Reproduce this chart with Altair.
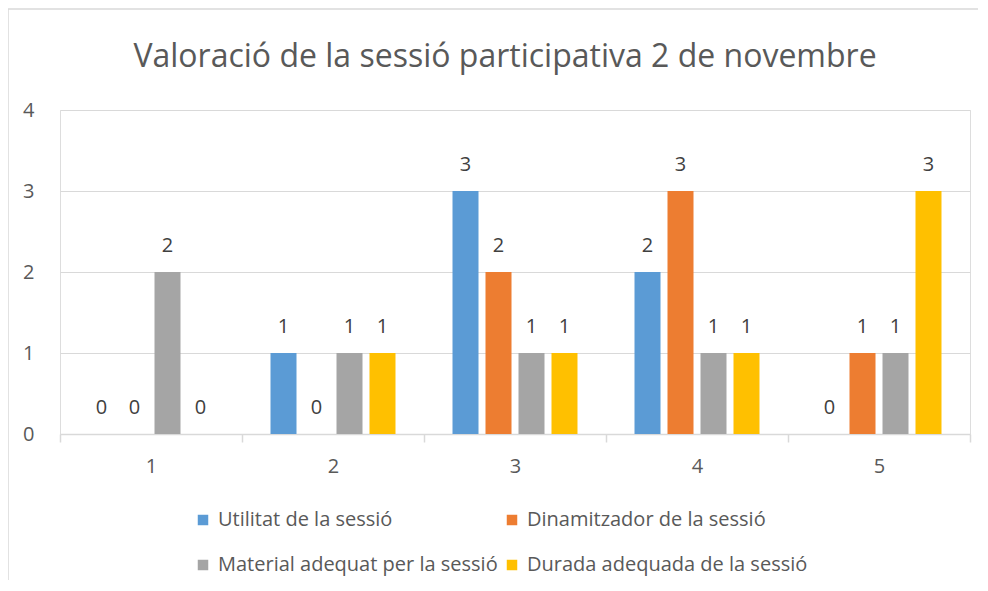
import altair as alt
import pandas as pd

categories = ["1", "2", "3", "4", "5"]
series = ["Utilitat de la sessió", "Dinamitzador de la sessió",
          "Material adequat per la sessió", "Durada adequada de la sessió"]
utilitat = [0, 1, 3, 2, 0]
dinamitzador = [0, 0, 2, 3, 1]
material = [2, 1, 1, 1, 1]
durada = [0, 1, 1, 1, 3]
y_ticks = [0, 1, 2, 3, 4]
colors = ["#5B9BD5", "#ED7D31", "#A5A5A5", "#FFC000"]
title = "Valoració de la sessió participativa 2 de novembre"

rows = []
for s, vals in zip(series, [utilitat, dinamitzador, material, durada]):
    for c, v in zip(categories, vals):
        rows.append({"cat": c, "serie": s, "valor": v})
df = pd.DataFrame(rows)

FONT = "Open Sans"
GREY = "#595959"

x_enc = alt.X("cat:N", sort=categories, title=None,
              scale=alt.Scale(paddingInner=0, paddingOuter=0),
              axis=alt.Axis(labelAngle=0, labelFontSize=20, labelColor=GREY,
                            labelFont=FONT, labelPadding=14, tickBand="extent",
                            tickColor="#d9d9d9", tickSize=8, tickWidth=1.5,
                            domainColor="#d9d9d9", domainWidth=1.5, grid=False))
xo_enc = alt.XOffset("serie:N", sort=series,
                     scale=alt.Scale(paddingInner=0.212, paddingOuter=0.864))
y_enc = alt.Y("valor:Q", title=None,
              scale=alt.Scale(domain=[0, 4], nice=False),
              axis=alt.Axis(values=y_ticks, format="d", labelFontSize=20,
                            labelColor=GREY, labelFont=FONT, labelPadding=26,
                            domain=False, ticks=False, gridColor="#d9d9d9",
                            gridWidth=1.2))

bars = alt.Chart(df).mark_bar().encode(
    x=x_enc, xOffset=xo_enc, y=y_enc,
    color=alt.Color("serie:N", sort=series, title=None,
                    scale=alt.Scale(domain=series, range=colors),
                    legend=alt.Legend(orient="none", legendX=133, legendY=400,
                                      columns=2, direction="horizontal",
                                      symbolType="square", symbolSize=110,
                                      symbolStrokeWidth=0, labelFontSize=20,
                                      labelFont=FONT, labelColor=GREY,
                                      labelOffset=5, columnPadding=4,
                                      rowPadding=25, padding=0, labelLimit=400)),
)

labels = alt.Chart(df).mark_text(fontSize=20, font=FONT, color="#404040",
                                 baseline="alphabetic", dy=-20).encode(
    x=alt.X("cat:N", sort=categories), xOffset=xo_enc,
    y=alt.Y("valor:Q"), text=alt.Text("valor:Q", format="d"),
)

frame = pd.DataFrame({"k": [0]})
left_border = alt.Chart(frame).mark_rule(color="#d9d9d9", strokeWidth=1.5).encode(
    x=alt.value(-52), y=alt.value(-101), y2=alt.value(700))
top_border = alt.Chart(frame).mark_rule(color="#d9d9d9", strokeWidth=1.5).encode(
    x=alt.value(-52), x2=alt.value(918), y=alt.value(-101))

chart = alt.layer(bars, labels, left_border, top_border).properties(
    width=910, height=324,
    title=alt.TitleParams(title, fontSize=32, font=FONT, color=GREY,
                          fontWeight="normal", anchor="middle", offset=0,
                          dx=-10, dy=66, frame="group"),
    autosize=alt.AutoSizeParams(type="none"),
    padding={"left": 52, "top": 102, "right": 8, "bottom": 146},
).configure_view(stroke=None).configure(background="white")

chart.save("out.html", embed_options={"renderer": "svg", "actions": False})
